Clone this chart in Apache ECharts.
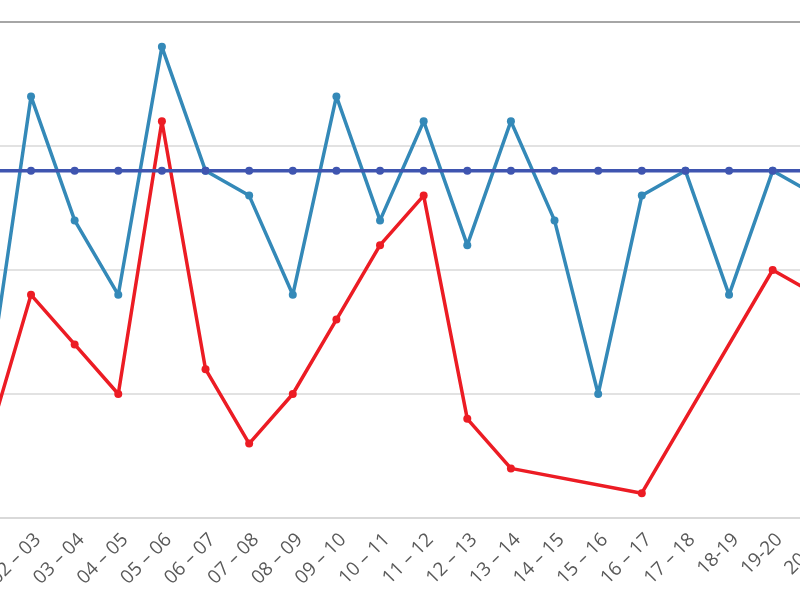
<!DOCTYPE html>
<html>
<head>
<meta charset="utf-8">
<script src="https://cdn.jsdelivr.net/npm/echarts@6/dist/echarts.min.js"></script>
<style>html,body{margin:0;padding:0;background:#fff}#c{width:800px;height:600px}</style>
</head>
<body>
<div id="c"></div>
<script>
var categories = ["01 – 02","02 – 03","03 – 04","04 – 05","05 – 06","06 – 07","07 – 08","08 – 09","09 – 10","10 – 11","11 – 12","12 – 13","13 – 14","14 – 15","15 – 16","16 – 17","17 – 18","18-19","19-20","20-21"];
var blueValues = [5,17,12,9,19,14,13,9,17,12,16,11,16,12,5,13,14,9,14,13];
var redValues = [3,9,7,5,16,6,3,5,8,11,13,4,2,null,null,1,null,null,10,9];
var constValues = [14,14,14,14,14,14,14,14,14,14,14,14,14,14,14,14,14,14,14,14];
var yTicks = {min:0, max:20, interval:5};

var chart = echarts.init(document.getElementById('c'), null, {renderer:'canvas'});
chart.setOption({
  animation:false,
  backgroundColor:'#ffffff',
  grid:{left:-12.6, right:-16.3, top:22, bottom:82, containLabel:false, outerBoundsMode:'none'},
  xAxis:[{
    type:'category', data:categories, boundaryGap:false,
    axisLine:{show:true, lineStyle:{color:'#d9d9d9', width:2}},
    axisTick:{show:false},
    axisLabel:{interval:0, rotate:45, margin:12, color:'#595959', fontSize:19, fontFamily:'Open Sans', verticalAlign:'top', hideOverlap:false},
    splitLine:{show:false}
  },{
    type:'category', data:categories, boundaryGap:false, position:'top',
    axisLine:{show:true, lineStyle:{color:'#a6a6a6', width:2}},
    axisTick:{show:false}, axisLabel:{show:false}, splitLine:{show:false}
  }],
  yAxis:{
    type:'value', min:yTicks.min, max:yTicks.max, interval:yTicks.interval,
    axisLine:{show:false}, axisTick:{show:false}, axisLabel:{show:false},
    splitLine:{show:true, lineStyle:{color:'#d9d9d9', width:1.5}}
  },
  series:[
    {type:'line', data:blueValues, symbol:'circle', symbolSize:8,
     lineStyle:{color:'#3489b8', width:3.5}, itemStyle:{color:'#3489b8'}},
    {type:'line', data:redValues, connectNulls:true, symbol:'circle', symbolSize:8,
     lineStyle:{color:'#ec1c24', width:3.5}, itemStyle:{color:'#ec1c24'}},
    {type:'line', data:constValues, symbol:'circle', symbolSize:8,
     lineStyle:{color:'#3f55b0', width:3.5}, itemStyle:{color:'#3f55b0'}}
  ]
});
</script>
</body>
</html>
